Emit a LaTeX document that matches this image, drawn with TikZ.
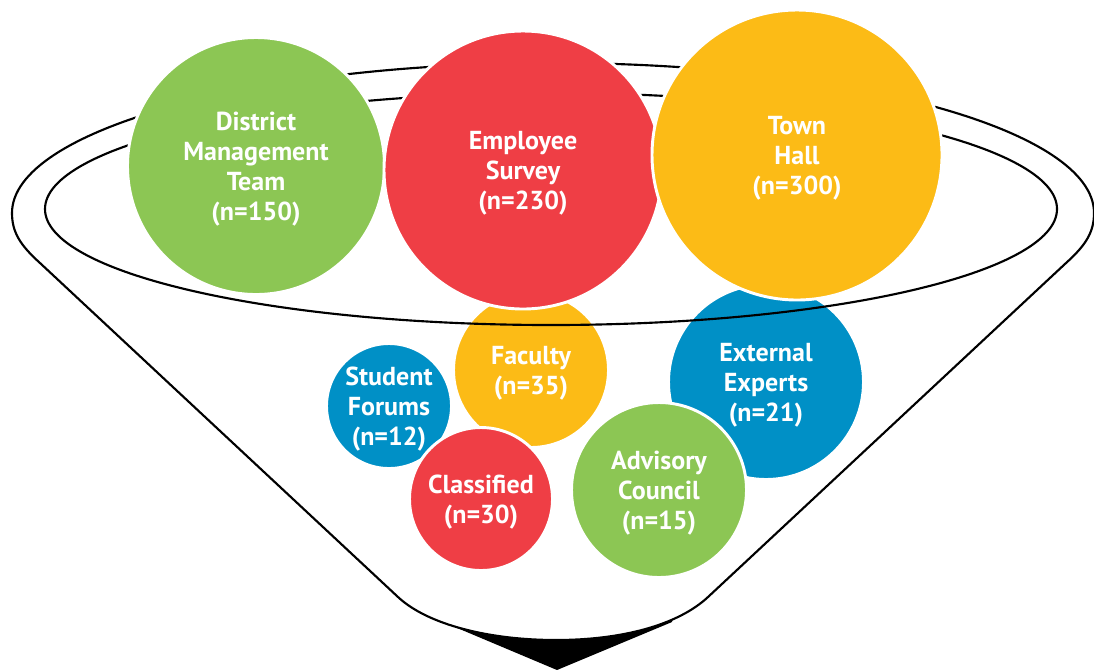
\documentclass[tikz,border=0pt]{standalone}
\usepackage{fontspec}
\setmainfont{PT Sans}
\usepackage{xcolor}
\definecolor{groupgreen}{RGB}{140,198,84}
\definecolor{groupred}{RGB}{239,62,69}
\definecolor{groupyellow}{RGB}{252,187,22}
\definecolor{groupblue}{RGB}{0,144,198}

\begin{document}
\begin{tikzpicture}[
    x=0.75pt, y=-0.75pt,
    bubble/.style={circle,draw=white,line width=2.2pt,inner sep=0pt,minimum size=#1*0.75pt,align=center,text=white,text depth=0pt,font=\fontsize{19.5}{22.5}\selectfont\bfseries},
    rim/.style={line width=1.6pt}
]
\useasboundingbox (0,0) rectangle (1094,669);

% smaller groups sit inside the funnel
\node[bubble=125,fill=groupblue] (forums) at (389,406) {Student\\Forums\\(n=12)};
\node[bubble=155,fill=groupyellow] (faculty) at (531,370) {Faculty\\(n=35)};
\node[bubble=195,fill=groupblue] (experts) at (766,382) {External\\Experts\\(n=21)};
\node[bubble=143,fill=groupred] (classified) at (481,499) {Classified\\(n=30)};
\node[bubble=175,fill=groupgreen] (advisory) at (659,490) {Advisory\\Council\\(n=15)};

% funnel
\draw[rim] (551,209) ellipse [x radius=506, y radius=116];
\draw[rim] (398,597) -- (40,263) .. controls (20,245) and (12,232) .. (12,213)
    arc[start angle=180, end angle=360, x radius=541, y radius=150]
    .. controls (1094,232) and (1086,245) .. (1066,263) -- (708,597)
    .. controls (678,625) and (622,640) .. (556,640)
    .. controls (490,640) and (428,625) .. (398,597) -- cycle;
\begin{scope}
\clip (557,670) -- (443,622) -- (443,560) -- (672,560) -- (672,622) -- cycle;
\fill (398,597) .. controls (428,625) and (490,640) .. (556,640)
    .. controls (622,640) and (678,625) .. (708,597) -- (708,690) -- (398,690) -- cycle;
\end{scope}

% large groups on top
\node[bubble=257,fill=groupgreen] (district) at (256,166) {District\\Management\\Team\\(n=150)};
\node[bubble=278,fill=groupred] (survey) at (523,170) {Employee\\Survey\\(n=230)};
\node[bubble=290,fill=groupyellow] (townhall) at (797,155) {Town\\Hall\\(n=300)};
\end{tikzpicture}
\end{document}
